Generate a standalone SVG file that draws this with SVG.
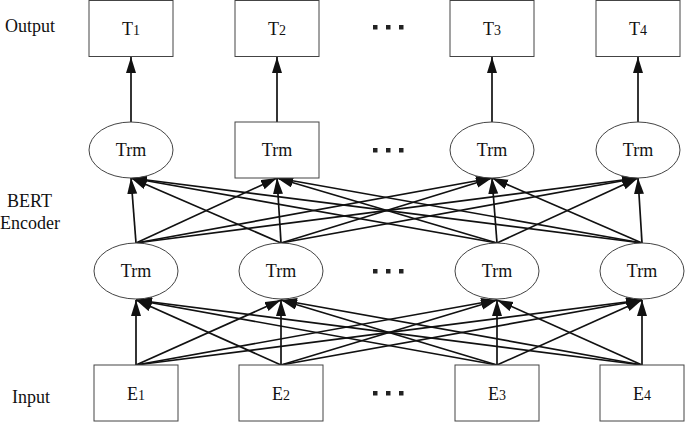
<svg xmlns="http://www.w3.org/2000/svg" width="685" height="422" viewBox="0 0 685 422">
<style>
.box{fill:#fff;stroke:#444;stroke-width:1}
.lbl{font-family:"Liberation Serif","Times New Roman",serif;font-size:18px;fill:#111}
.nt{font-family:"Liberation Serif","Times New Roman",serif;font-size:18px;fill:#111;text-anchor:middle}
.sub{font-size:14px}
.cn line{stroke:#111;stroke-width:1.7;marker-end:url(#ah)}
.dot{fill:#222}
</style>
<defs>
<marker id="ah" markerUnits="userSpaceOnUse" markerWidth="17" markerHeight="11" refX="16" refY="5" orient="auto">
<path d="M0,0 L16,5 L0,10 z" fill="#111"/>
</marker>
</defs>
<rect width="685" height="422" fill="#fff"/>
<text class="lbl" x="5" y="32">Output</text>
<text class="lbl" x="7" y="207">BERT</text>
<text class="lbl" x="0" y="229">Encoder</text>
<text class="lbl" x="12" y="403">Input</text>
<g id="connectors" class="cn">
<line x1="131" y1="122" x2="131" y2="57"/>
<line x1="277" y1="122" x2="277" y2="57"/>
<line x1="492" y1="122" x2="492" y2="57"/>
<line x1="638" y1="122" x2="638" y2="57"/>
<line x1="136" y1="243" x2="131" y2="178"/>
<line x1="136" y1="243" x2="277" y2="178"/>
<line x1="136" y1="243" x2="492" y2="178"/>
<line x1="136" y1="243" x2="638" y2="178"/>
<line x1="281" y1="243" x2="131" y2="178"/>
<line x1="281" y1="243" x2="277" y2="178"/>
<line x1="281" y1="243" x2="492" y2="178"/>
<line x1="281" y1="243" x2="638" y2="178"/>
<line x1="497" y1="243" x2="131" y2="178"/>
<line x1="497" y1="243" x2="277" y2="178"/>
<line x1="497" y1="243" x2="492" y2="178"/>
<line x1="497" y1="243" x2="638" y2="178"/>
<line x1="642" y1="243" x2="131" y2="178"/>
<line x1="642" y1="243" x2="277" y2="178"/>
<line x1="642" y1="243" x2="492" y2="178"/>
<line x1="642" y1="243" x2="638" y2="178"/>
<line x1="136" y1="365" x2="136" y2="300"/>
<line x1="136" y1="365" x2="281" y2="300"/>
<line x1="136" y1="365" x2="497" y2="300"/>
<line x1="136" y1="365" x2="642" y2="300"/>
<line x1="281" y1="365" x2="136" y2="300"/>
<line x1="281" y1="365" x2="281" y2="300"/>
<line x1="281" y1="365" x2="497" y2="300"/>
<line x1="281" y1="365" x2="642" y2="300"/>
<line x1="497" y1="365" x2="136" y2="300"/>
<line x1="497" y1="365" x2="281" y2="300"/>
<line x1="497" y1="365" x2="497" y2="300"/>
<line x1="497" y1="365" x2="642" y2="300"/>
<line x1="642" y1="365" x2="136" y2="300"/>
<line x1="642" y1="365" x2="281" y2="300"/>
<line x1="642" y1="365" x2="497" y2="300"/>
<line x1="642" y1="365" x2="642" y2="300"/>
</g>
<g id="T1"><rect class="box" x="89" y="0.5" width="84" height="56"/><text class="nt" x="131" y="35">T<tspan class="sub">1</tspan></text></g>
<g id="T2"><rect class="box" x="235" y="0.5" width="84" height="56"/><text class="nt" x="277" y="35">T<tspan class="sub">2</tspan></text></g>
<g id="T3"><rect class="box" x="450" y="0.5" width="84" height="56"/><text class="nt" x="492" y="35">T<tspan class="sub">3</tspan></text></g>
<g id="T4"><rect class="box" x="596" y="0.5" width="84" height="56"/><text class="nt" x="638" y="35">T<tspan class="sub">4</tspan></text></g>
<g id="trm2_1"><ellipse class="box" cx="131" cy="150" rx="42" ry="28"/><text class="nt" x="131" y="156">Trm</text></g>
<g id="trm2_2"><rect class="box" x="235" y="122" width="84" height="56"/><text class="nt" x="277" y="156">Trm</text></g>
<g id="trm2_3"><ellipse class="box" cx="492" cy="150" rx="42" ry="28"/><text class="nt" x="492" y="156">Trm</text></g>
<g id="trm2_4"><ellipse class="box" cx="638" cy="150" rx="42" ry="28"/><text class="nt" x="638" y="156">Trm</text></g>
<g id="trm1_1"><ellipse class="box" cx="136" cy="271" rx="42" ry="28"/><text class="nt" x="136" y="277">Trm</text></g>
<g id="trm1_2"><ellipse class="box" cx="281" cy="271" rx="42" ry="28"/><text class="nt" x="281" y="277">Trm</text></g>
<g id="trm1_3"><ellipse class="box" cx="497" cy="271" rx="42" ry="28"/><text class="nt" x="497" y="277">Trm</text></g>
<g id="trm1_4"><ellipse class="box" cx="642" cy="271" rx="42" ry="28"/><text class="nt" x="642" y="277">Trm</text></g>
<g id="E1"><rect class="box" x="94" y="365" width="84" height="56"/><text class="nt" x="136" y="400">E<tspan class="sub">1</tspan></text></g>
<g id="E2"><rect class="box" x="239" y="365" width="84" height="56"/><text class="nt" x="281" y="400">E<tspan class="sub">2</tspan></text></g>
<g id="E3"><rect class="box" x="455" y="365" width="84" height="56"/><text class="nt" x="497" y="400">E<tspan class="sub">3</tspan></text></g>
<g id="E4"><rect class="box" x="600" y="365" width="84" height="56"/><text class="nt" x="642" y="400">E<tspan class="sub">4</tspan></text></g>
<g id="dots">
<rect class="dot" x="373" y="25" width="4.5" height="4.5"/><rect class="dot" x="386" y="25" width="4.5" height="4.5"/><rect class="dot" x="399" y="25" width="4.5" height="4.5"/>
<rect class="dot" x="373" y="148" width="4.5" height="4.5"/><rect class="dot" x="386" y="148" width="4.5" height="4.5"/><rect class="dot" x="399" y="148" width="4.5" height="4.5"/>
<rect class="dot" x="373" y="269" width="4.5" height="4.5"/><rect class="dot" x="386" y="269" width="4.5" height="4.5"/><rect class="dot" x="399" y="269" width="4.5" height="4.5"/>
<rect class="dot" x="373" y="391" width="4.5" height="4.5"/><rect class="dot" x="386" y="391" width="4.5" height="4.5"/><rect class="dot" x="399" y="391" width="4.5" height="4.5"/>
</g>
</svg>
